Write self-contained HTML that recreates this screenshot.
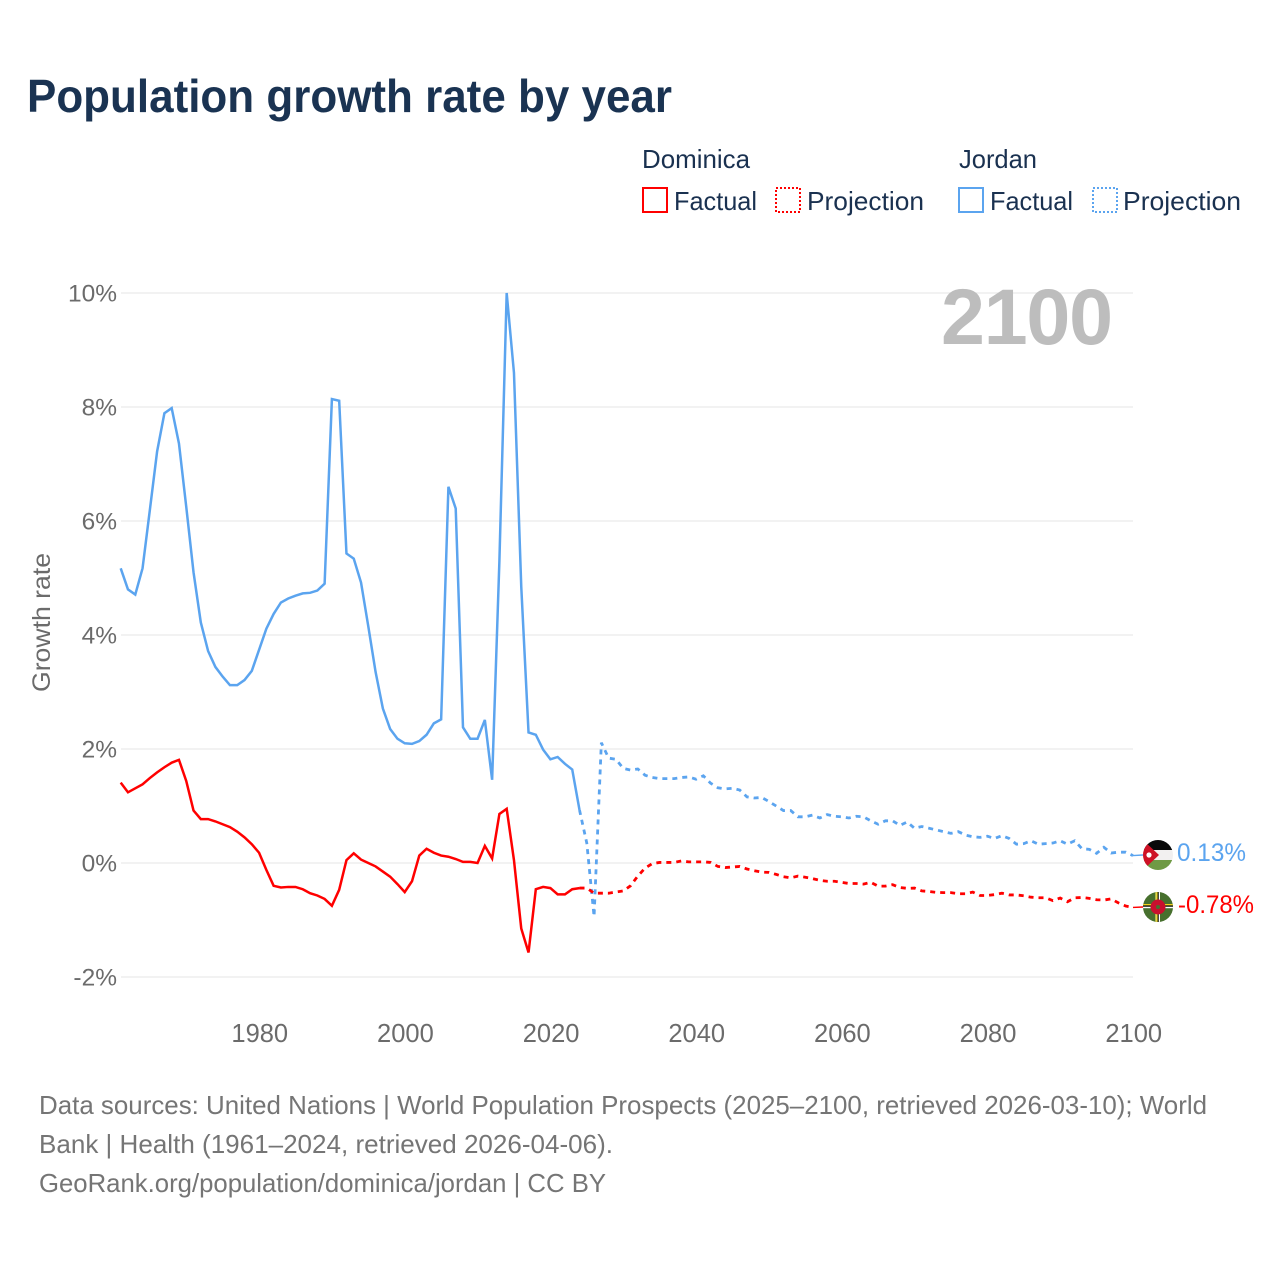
<!DOCTYPE html>
<html lang="en">
<head>
<meta charset="utf-8">
<title>Population growth rate by year</title>
<style>
html,body{margin:0;padding:0;background:#fff;}
svg{display:block;font-family:"Liberation Sans",sans-serif;}
.nav{fill:#1a3150;}
.foot{fill:#757575;font-size:26px;}
</style>
</head>
<body>
<svg id="chart" width="1280" height="1280" viewBox="0 0 1280 1280" xmlns="http://www.w3.org/2000/svg">
  <rect width="1280" height="1280" fill="#fff"/>
  <text x="27" y="112" font-size="46" font-weight="bold" fill="#1a3352" textLength="645" lengthAdjust="spacingAndGlyphs">Population growth rate by year</text>

  <g font-size="26">
    <text class="nav" x="642" y="168" textLength="108" lengthAdjust="spacingAndGlyphs">Dominica</text>
    <text class="nav" x="959" y="168" textLength="78" lengthAdjust="spacingAndGlyphs">Jordan</text>
    <rect x="643" y="188" width="24" height="24" fill="none" stroke="#ff0000" stroke-width="2"/>
    <text class="nav" x="674" y="210" textLength="83" lengthAdjust="spacingAndGlyphs">Factual</text>
    <rect x="776" y="188" width="24" height="24" fill="none" stroke="#ff0000" stroke-width="2" stroke-dasharray="2 2"/>
    <text class="nav" x="807" y="210" textLength="117" lengthAdjust="spacingAndGlyphs">Projection</text>
    <rect x="959" y="188" width="24" height="24" fill="none" stroke="#5ba4ef" stroke-width="2"/>
    <text class="nav" x="990" y="210" textLength="83" lengthAdjust="spacingAndGlyphs">Factual</text>
    <rect x="1093" y="188" width="24" height="24" fill="none" stroke="#5ba4ef" stroke-width="2" stroke-dasharray="2 2"/>
    <text class="nav" x="1123" y="210" textLength="118" lengthAdjust="spacingAndGlyphs">Projection</text>
  </g>

  <g id="grid"></g>
  <g id="yticks"></g>
  <g id="xticks"></g>

  <text transform="translate(50 622.5) rotate(-90)" text-anchor="middle" font-size="25" fill="#6b6b6b" textLength="139" lengthAdjust="spacingAndGlyphs">Growth rate</text>
  <text x="1113" y="344" text-anchor="end" font-size="79" font-weight="bold" fill="#bdbdbd" textLength="172" lengthAdjust="spacing">2100</text>

  <g id="series"></g>

  <defs>
    <clipPath id="flag-clip-jordan"><circle cx="1158" cy="855" r="15"/></clipPath>
    <clipPath id="flag-clip-dominica"><circle cx="1158" cy="907" r="15"/></clipPath>
  </defs>

  <g id="flag-jordan" clip-path="url(#flag-clip-jordan)">
    <rect x="1143" y="840" width="30" height="10" fill="#0a0a0a"/>
    <rect x="1143" y="850" width="30" height="10" fill="#f2f0f0"/>
    <rect x="1143" y="860" width="30" height="10" fill="#6f9a45"/>
    <polygon points="1143,840 1159,855 1143,870" fill="#ce1126"/>
    <circle cx="1149" cy="855" r="2.6" fill="#fff"/>
  </g>
  <g id="flag-dominica" clip-path="url(#flag-clip-dominica)">
    <rect x="1143" y="892" width="30" height="30" fill="#47702e"/>
    <rect x="1156.6" y="892" width="1" height="30" fill="#f2d21b"/>
    <rect x="1155.4" y="892" width="1.2" height="30" fill="#f6e65a"/>
    <rect x="1157.6" y="892" width="1.2" height="30" fill="#111"/>
    <rect x="1158.8" y="892" width="1.2" height="30" fill="#fff"/>
    <rect x="1143" y="904" width="30" height="1.4" fill="#f2d21b"/>
    <rect x="1143" y="905.4" width="30" height="1.4" fill="#111"/>
    <rect x="1143" y="906.8" width="30" height="1.4" fill="#fff"/>
    <circle cx="1158" cy="907" r="7.5" fill="#c8102e"/>
    <circle cx="1158" cy="907" r="2" fill="#47702e"/>
  </g>

  <g id="end-labels"></g>

  <g>
    <text class="foot" x="39" y="1114" textLength="1168" lengthAdjust="spacingAndGlyphs">Data sources: United Nations | World Population Prospects (2025–2100, retrieved 2026-03-10); World</text>
    <text class="foot" x="39" y="1153" textLength="574" lengthAdjust="spacingAndGlyphs">Bank | Health (1961–2024, retrieved 2026-04-06).</text>
    <text class="foot" x="39" y="1192" textLength="567" lengthAdjust="spacingAndGlyphs">GeoRank.org/population/dominica/jordan | CC BY</text>
  </g>
</svg>

<script>
const xTickYears = [1980, 2000, 2020, 2040, 2060, 2080, 2100];
const yTickValues = [-2, 0, 2, 4, 6, 8, 10];
const factualStartYear = 1961;
const projectionStartYear = 2024;

const jordanFactual = [5.17,4.80,4.71,5.17,6.19,7.22,7.89,7.98,7.36,6.25,5.10,4.22,3.72,3.44,3.27,3.12,3.12,3.21,3.37,3.74,
  4.11,4.37,4.57,4.64,4.69,4.73,4.74,4.78,4.90,8.14,8.11,5.43,5.34,4.92,4.15,3.35,2.71,2.35,2.18,2.10,
  2.09,2.14,2.25,2.45,2.52,6.60,6.22,2.38,2.18,2.18,2.51,1.46,5.30,10.0,8.60,4.85,2.29,2.25,1.99,1.82,
  1.86,1.74,1.64,0.93];
const jordanProjection = [0.93,0.35,-0.94,2.11,1.84,1.82,1.66,1.63,1.65,1.54,1.50,1.48,1.48,1.48,1.50,1.51,1.47,1.53,1.40,1.32,1.30,
  1.31,1.28,1.16,1.14,1.15,1.08,1.00,0.92,0.92,0.81,0.81,0.84,0.79,0.85,0.82,0.81,0.79,0.82,0.81,
  0.74,0.68,0.74,0.74,0.66,0.72,0.61,0.64,0.61,0.58,0.55,0.52,0.55,0.49,0.46,0.45,0.47,0.43,0.48,0.43,
  0.33,0.34,0.39,0.33,0.34,0.35,0.39,0.33,0.39,0.25,0.24,0.17,0.275,0.175,0.19,0.19,0.13];
const dominicaFactual = [1.41,1.24,1.31,1.38,1.49,1.59,1.68,1.76,1.81,1.44,0.92,0.77,0.77,0.73,0.68,0.63,0.55,0.45,0.33,0.18,
  -0.12,-0.40,-0.43,-0.42,-0.42,-0.46,-0.53,-0.57,-0.63,-0.75,-0.47,0.05,0.17,0.06,0.00,-0.06,-0.15,-0.24,-0.37,-0.51,
  -0.32,0.13,0.25,0.18,0.13,0.11,0.07,0.02,0.02,0.00,0.30,0.08,0.86,0.95,0.05,-1.15,-1.57,-0.46,-0.42,-0.44,
  -0.55,-0.55,-0.46,-0.44];
const dominicaProjection = [-0.44,-0.44,-0.53,-0.53,-0.53,-0.51,-0.49,-0.40,-0.23,-0.09,-0.01,0.01,0.01,0.01,0.035,0.02,0.02,0.02,0.01,-0.06,-0.08,
  -0.07,-0.06,-0.105,-0.135,-0.16,-0.165,-0.20,-0.24,-0.26,-0.23,-0.25,-0.275,-0.305,-0.32,-0.32,-0.34,-0.36,-0.36,-0.37,
  -0.34,-0.405,-0.405,-0.38,-0.43,-0.445,-0.44,-0.49,-0.50,-0.515,-0.52,-0.52,-0.54,-0.54,-0.51,-0.57,-0.57,-0.555,-0.53,-0.56,
  -0.56,-0.575,-0.60,-0.61,-0.61,-0.66,-0.615,-0.68,-0.61,-0.605,-0.62,-0.645,-0.65,-0.63,-0.70,-0.755,-0.78];
const endValueLabels = ["0.13%", "-0.78%"];

const SVGNS = "http://www.w3.org/2000/svg";
const xScale = year => 120.7 + (year - 1961) * (1133 - 120.7) / (2100 - 1961);
const yScale = value => 863 - value * 57;

function mk(tag, parent, attrs, text) {
  const el = document.createElementNS(SVGNS, tag);
  for (const k in attrs) el.setAttribute(k, attrs[k]);
  if (text !== undefined) el.textContent = text;
  parent.appendChild(el);
  return el;
}

const gridG = document.getElementById("grid");
const yG = document.getElementById("yticks");
const xG = document.getElementById("xticks");
const seriesG = document.getElementById("series");
const endG = document.getElementById("end-labels");

yTickValues.forEach(v => {
  const line = mk("line", gridG, {x1: 121, x2: 1133, y1: yScale(v), y2: yScale(v), stroke: "#e9e9e9", "stroke-width": 1.2});
  
  
  const label = mk("text", yG, {x: 117, y: yScale(v) + 8.5, "text-anchor": "end", "font-size": 24.5, fill: "#6b6b6b"}, v + "%");
  
  
});

xTickYears.forEach(y => {
  const label = mk("text", xG, {x: xScale(y) + 0.7, y: 1042, "text-anchor": "middle", "font-size": 25.5, fill: "#6b6b6b"}, String(y));
  
  
});

function pathFrom(values, startYear) {
  return values.map((v, i) => (i ? "L" : "M") + xScale(startYear + i).toFixed(2) + " " + yScale(v).toFixed(2)).join("");
}

function drawLine(values, startYear, color, dashed) {
  const attrs = {d: pathFrom(values, startYear), fill: "none", stroke: color, "stroke-width": dashed ? 2.8 : 2.5, "stroke-linejoin": "miter"};
  if (dashed) attrs["stroke-dasharray"] = "5 5";
  return mk("path", seriesG, attrs);
}

const jordanColor = "#5ba4ef";
const dominicaColor = "#ff0000";

const jf = drawLine(jordanFactual, factualStartYear, jordanColor, false);


const jp = drawLine(jordanProjection, projectionStartYear, jordanColor, true);


const df = drawLine(dominicaFactual, factualStartYear, dominicaColor, false);


const dp = drawLine(dominicaProjection, projectionStartYear, dominicaColor, true);



const lastJordan = jordanProjection[jordanProjection.length - 1];
const lastDominica = dominicaProjection[dominicaProjection.length - 1];
const cj = mk("line", seriesG, {x1: xScale(2100), x2: 1143, y1: yScale(lastJordan), y2: 855, stroke: jordanColor, "stroke-width": 1.4});


const cd = mk("line", seriesG, {x1: xScale(2100), x2: 1143, y1: yScale(lastDominica), y2: 907, stroke: dominicaColor, "stroke-width": 1.4});



const ej = mk("text", endG, {x: 1177, y: 861, "font-size": 25, fill: jordanColor, textLength: 69, lengthAdjust: "spacingAndGlyphs"}, endValueLabels[0]);


const ed = mk("text", endG, {x: 1178, y: 913, "font-size": 25, fill: dominicaColor, textLength: 76, lengthAdjust: "spacingAndGlyphs"}, endValueLabels[1]);


</script>
</body>
</html>
